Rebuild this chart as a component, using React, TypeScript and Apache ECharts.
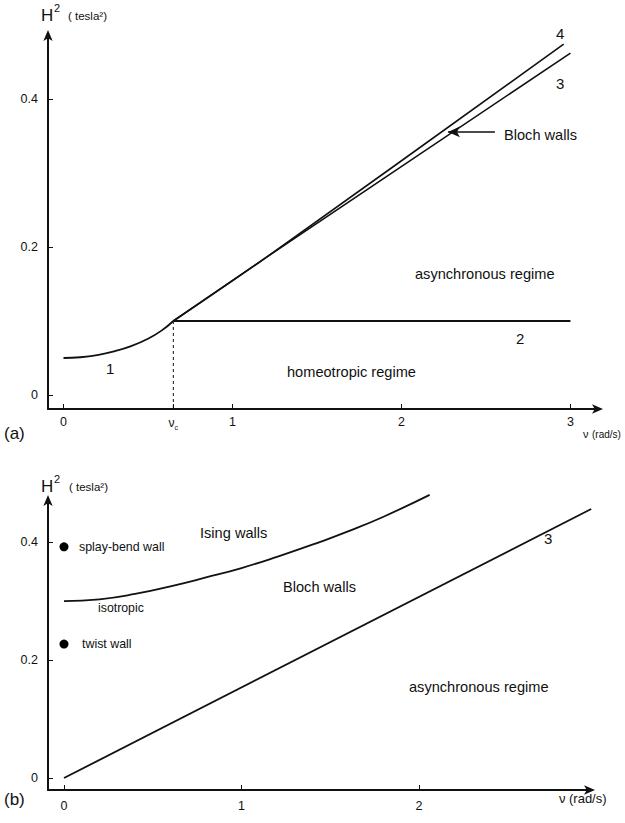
import React, { useEffect, useRef } from "react";
import * as echarts from "echarts";

const FONT = "'Liberation Sans', Arial, Helvetica, sans-serif";

// ---------- panel (a) ----------
const nuC = 0.65;
const curve1 = [[0, 0.05], [0.1, 0.051], [0.2, 0.054], [0.3, 0.059], [0.4, 0.066], [0.5, 0.076], [0.58, 0.087], [0.65, 0.1]];
const line2 = [[0.65, 0.1], [3.0, 0.1]];
const line3a = [[0.65, 0.1], [1.2, 0.186], [3.0, 0.462]];
const line4a = [[0.65, 0.1], [1.2, 0.186], [2.96, 0.474]];
const blochArrow = [[2.275, 0.3555], [2.553, 0.3555]];
const xTicksA = [0, 1, 2, 3];
const yTicks = [0, 0.2, 0.4];

// ---------- panel (b) ----------
const isotropic = [[0, 0.3], [0.2, 0.303], [0.4, 0.312], [0.6, 0.325], [0.8, 0.34], [1.0, 0.356], [1.2, 0.375], [1.44, 0.4], [1.6, 0.418], [1.8, 0.443], [2.06, 0.48]];
const line3b = [[0, 0], [2.97, 0.456]];
const wallPoints = [[0, 0.392], [0, 0.227]];
const xTicksB = [0, 1, 2];

const BLACK = "#111";

function txt(x: number, y: number, text: string, size: number, extra: any = {}) {
  return {
    type: "text",
    x,
    y,
    silent: true,
    style: {
      text,
      fontSize: size,
      fontFamily: FONT,
      fill: BLACK,
      align: "left",
      verticalAlign: "middle",
      ...extra,
    },
  };
}

export default function App() {
  const ref = useRef<HTMLDivElement>(null);
  useEffect(() => {
    if (!ref.current) return;
    const chart = echarts.init(ref.current, undefined, { renderer: "svg" });

    const axisLine = {
      show: true,
      onZero: false,
      lineStyle: { color: BLACK, width: 2 },
      symbol: ["none", "arrow"],
      symbolSize: [7, 11],
      symbolOffset: [0, 4],
    };
    const tick = { show: true, inside: true, length: 5, lineStyle: { color: BLACK, width: 1 } };
    const yLabel = (vals: number[]) => ({
      customValues: vals,
      margin: 10,
      fontSize: 12.5,
      color: BLACK,
      fontFamily: FONT,
      formatter: (v: number) => (v === 0 ? "0" : v.toFixed(1)),
    });
    const LW = 1.8;

    const option: any = {
      animation: false,
      backgroundColor: "#fff",
      textStyle: { fontFamily: FONT },
      grid: [
        { left: 48, top: 34, width: 551, height: 375 },
        { left: 48, top: 499, width: 543, height: 291 },
      ],
      xAxis: [
        {
          gridIndex: 0,
          type: "value",
          min: -0.0917,
          max: 3.169,
          axisLine,
          splitLine: { show: false },
          axisTick: { ...tick, customValues: [nuC, ...xTicksA] },
          axisLabel: {
            customValues: [nuC, ...xTicksA],
            margin: 6,
            fontSize: 12.5,
            color: BLACK,
            fontFamily: FONT,
            formatter: (v: number) => (Math.abs(v - nuC) < 1e-6 ? "{n|ν}{c|c}" : String(v)),
            rich: {
              n: { fontSize: 12, fontFamily: FONT, color: BLACK },
              c: { fontSize: 7, fontFamily: FONT, color: BLACK, padding: [9, 0, 0, 0] },
            },
          },
        },
        {
          gridIndex: 1,
          type: "value",
          min: -0.0901,
          max: 2.969,
          axisLine,
          splitLine: { show: false },
          axisTick: { ...tick, customValues: xTicksB },
          axisLabel: { customValues: xTicksB, margin: 9, fontSize: 12.5, color: BLACK, fontFamily: FONT },
        },
      ],
      yAxis: [
        {
          gridIndex: 0,
          type: "value",
          min: -0.0189,
          max: 0.4878,
          axisLine,
          splitLine: { show: false },
          axisTick: { ...tick, customValues: yTicks },
          axisLabel: yLabel(yTicks),
        },
        {
          gridIndex: 1,
          type: "value",
          min: -0.0203,
          max: 0.473,
          axisLine,
          splitLine: { show: false },
          axisTick: { ...tick, customValues: yTicks },
          axisLabel: yLabel(yTicks),
        },
      ],
      series: [
        {
          type: "line", xAxisIndex: 0, yAxisIndex: 0, data: curve1, smooth: true, showSymbol: false,
          lineStyle: { color: BLACK, width: LW }, clip: false, silent: true,
        },
        {
          type: "line", xAxisIndex: 0, yAxisIndex: 0, data: line2, showSymbol: false,
          lineStyle: { color: BLACK, width: LW }, clip: false, silent: true,
        },
        {
          type: "line", xAxisIndex: 0, yAxisIndex: 0, data: line3a, smooth: 0.3, showSymbol: false,
          lineStyle: { color: BLACK, width: 1.6 }, clip: false, silent: true,
          markLine: {
            silent: true,
            symbol: ["arrow", "none"],
            symbolSize: [8, 12],
            label: { show: false },
            lineStyle: { color: BLACK, width: 1.6, type: "solid" },
            data: [[{ coord: blochArrow[0] }, { coord: blochArrow[1] }]],
          },
        },
        {
          type: "line", xAxisIndex: 0, yAxisIndex: 0, data: line4a, smooth: 0.3, showSymbol: false,
          lineStyle: { color: BLACK, width: 1.6 }, clip: false, silent: true,
        },
        {
          type: "line", xAxisIndex: 0, yAxisIndex: 0, data: [[nuC, 0.1], [nuC, -0.0189]], showSymbol: false,
          lineStyle: { color: BLACK, width: 1, type: [3, 3] }, clip: false, silent: true,
        },
        {
          type: "line", xAxisIndex: 1, yAxisIndex: 1, data: isotropic, smooth: true, showSymbol: false,
          lineStyle: { color: BLACK, width: LW }, clip: false, silent: true,
        },
        {
          type: "line", xAxisIndex: 1, yAxisIndex: 1, data: line3b, showSymbol: false,
          lineStyle: { color: BLACK, width: LW }, clip: false, silent: true,
        },
        {
          type: "scatter", xAxisIndex: 1, yAxisIndex: 1, data: wallPoints, symbolSize: 9,
          itemStyle: { color: "#000", opacity: 1 }, clip: false, silent: true,
        },
      ],
      graphic: [
        // panel (a)
        txt(41, 15, "H", 17),
        txt(54, 8, "2", 11),
        txt(68, 16, "( tesla²)", 11.5),
        txt(556, 33, "4", 15),
        txt(556, 83, "3", 15),
        txt(504, 135, "Bloch walls", 14.6),
        txt(415, 274, "asynchronous regime", 14.6),
        txt(516, 338, "2", 15),
        txt(287, 372, "homeotropic regime", 14.6),
        txt(106, 368, "1", 15),
        txt(583, 434, "ν", 11),
        txt(592, 434, "(rad/s)", 10),
        txt(4, 433, "(a)", 17),
        // panel (b)
        txt(41, 486, "H", 17),
        txt(54, 479, "2", 11),
        txt(69, 487, "( tesla²)", 11.5),
        txt(79, 547, "splay-bend wall", 12.4),
        txt(82, 644, "twist wall", 12.4),
        txt(98, 608, "isotropic", 12.3),
        txt(200, 533, "Ising walls", 14.6),
        txt(283, 587, "Bloch walls", 14.6),
        txt(409, 687, "asynchronous regime", 14.6),
        txt(544, 538, "3", 15),
        txt(559, 798, "ν", 13),
        txt(569, 798, "(rad/s)", 13),
        txt(4, 799, "(b)", 17),
      ],
    };

    chart.setOption(option);
    return () => chart.dispose();
  }, []);

  return (
    <div
      ref={ref}
      style={{ position: "absolute", left: 0, top: 0, width: 625, height: 823, background: "#fff" }}
    />
  );
}
